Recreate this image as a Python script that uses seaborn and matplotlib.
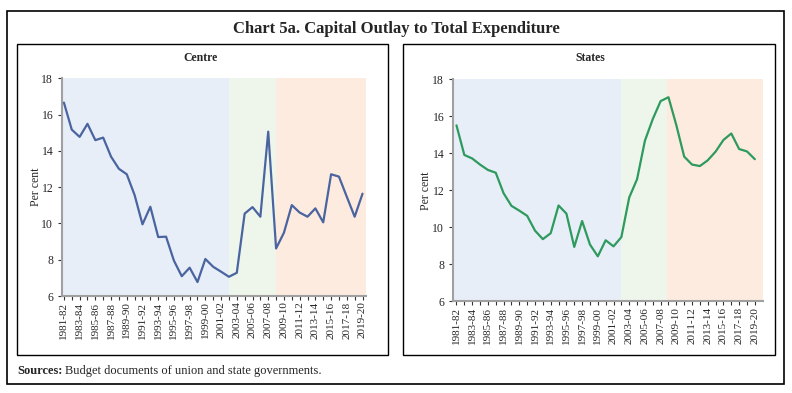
# Capital outlay to total expenditure - Centre vs States

import matplotlib
matplotlib.use('Agg')
import matplotlib.pyplot as plt
import pandas as pd
import seaborn as sns
from matplotlib.patches import Rectangle

anos = ['1981-82', '1982-83', '1983-84', '1984-85', '1985-86', '1986-87', '1987-88',
        '1988-89', '1989-90', '1990-91', '1991-92', '1992-93', '1993-94', '1994-95',
        '1995-96', '1996-97', '1997-98', '1998-99', '1999-00', '2000-01', '2001-02',
        '2002-03', '2003-04', '2004-05', '2005-06', '2006-07', '2007-08', '2008-09',
        '2009-10', '2010-11', '2011-12', '2012-13', '2013-14', '2014-15', '2015-16',
        '2016-17', '2017-18', '2018-19', '2019-20']

centro = [16.66, 15.17, 14.77, 15.49, 14.59, 14.73, 13.68, 13.01, 12.71, 11.56,
          9.95, 10.92, 9.25, 9.27, 7.95, 7.09, 7.56, 6.77, 8.04, 7.61,
          7.34, 7.06, 7.28, 10.54, 10.9, 10.37, 15.06, 8.62, 9.49, 11.01,
          10.6, 10.37, 10.83, 10.06, 12.71, 12.58, 11.47, 10.37, 11.64]

estados = [15.51, 13.91, 13.72, 13.39, 13.1, 12.95, 11.84, 11.16, 10.9, 10.62,
           9.82, 9.36, 9.68, 11.18, 10.74, 8.94, 10.34, 9.07, 8.43, 9.3,
           8.97, 9.47, 11.61, 12.6, 14.68, 15.85, 16.82, 17.03, 15.52, 13.82,
           13.39, 13.31, 13.62, 14.09, 14.72, 15.07, 14.23, 14.1, 13.68]

# periodos sombreados (indice inicial/final)
periodos_centro = [(-0.2, 21), (21, 27), (27, 38.4)]
periodos_estados = [(-0.4, 21), (21, 26.75), (26.75, 39)]
cores_periodos = ['#E8EEF8', '#EEF6EC', '#FDEBDF']

df = pd.DataFrame({'idx': range(len(anos)), 'ano': anos,
                   'Centre': centro, 'States': estados})

sns.set_style('white')
plt.rcParams['font.family'] = ['Liberation Serif', 'DejaVu Serif']

fig = plt.figure(figsize=(7.92, 3.93), dpi=100)

# molduras
fig.patches.append(Rectangle((0.0092, 0.0221), 0.981, 0.9506, transform=fig.transFigure,
                             fill=False, lw=1.2, ec='black'))
fig.patches.append(Rectangle((0.0218, 0.0967), 0.4677, 0.7913, transform=fig.transFigure,
                             fill=False, lw=1.0, ec='black'))
fig.patches.append(Rectangle((0.5092, 0.0967), 0.4693, 0.7913, transform=fig.transFigure,
                             fill=False, lw=1.0, ec='black'))

fig.text(0.5, 1 - 29 / 393, 'Chart 5a. Capital Outlay to Total Expenditure',
         ha='center', va='center', fontsize=12, fontweight='bold')
fig.text(0.0218, 1 - 371 / 393, 'Sources:', ha='left', va='center',
         fontsize=9, fontweight='bold')
fig.text(65 / 792, 1 - 371 / 393, 'Budget documents of union and state governments.',
         ha='left', va='center', fontsize=9)

eixos = [
    (fig.add_axes([0.0787, 0.2468, 0.383, 0.554]), 'Centre', '#4A64A0',
     periodos_centro, (-0.2, 38.4), 200, -0.067),
    (fig.add_axes([0.5724, 0.2333, 0.3906, 0.565]), 'States', '#2E9A5E',
     periodos_estados, (-0.4, 39), 590, -0.068),
]

for ax, serie, cor, periodos, lim, xt, lx in eixos:
    for (a, b), c in zip(periodos, cores_periodos):
        ax.axvspan(a, b, color=c, lw=0, zorder=0)
    sns.lineplot(data=df, x='idx', y=serie, ax=ax, color=cor, lw=1.6, zorder=3)
    ax.set_xlim(*lim)
    ax.set_ylim(6, 18)
    ax.set_yticks(range(6, 19, 2))
    ax.set_xticks(range(0, len(anos), 2))
    ax.set_xticklabels(anos[::2], rotation=90, fontsize=8)
    ax.set_xticks(range(len(anos)), minor=True)
    ax.tick_params(axis='y', labelsize=8.5, length=3, width=0.8, color='#333333', direction='out', left=True)
    ax.tick_params(axis='x', which='both', length=3, width=0.8, color='#333333', direction='out',
                   bottom=True, pad=1)
    ax.set_xlabel('')
    ax.set_ylabel('Per cent', fontsize=8.5)
    ax.yaxis.set_label_coords(lx, 0.5)
    for s in ['top', 'right']:
        ax.spines[s].set_visible(False)
    for s in ['left', 'bottom']:
        ax.spines[s].set_color('#A0A0A0')
        ax.spines[s].set_linewidth(1.5)
    fig.text(xt / 792, 1 - 58 / 393, serie, ha='center', va='center',
             fontsize=8.5, fontweight='bold')

fig.savefig('out.png', dpi=100)
